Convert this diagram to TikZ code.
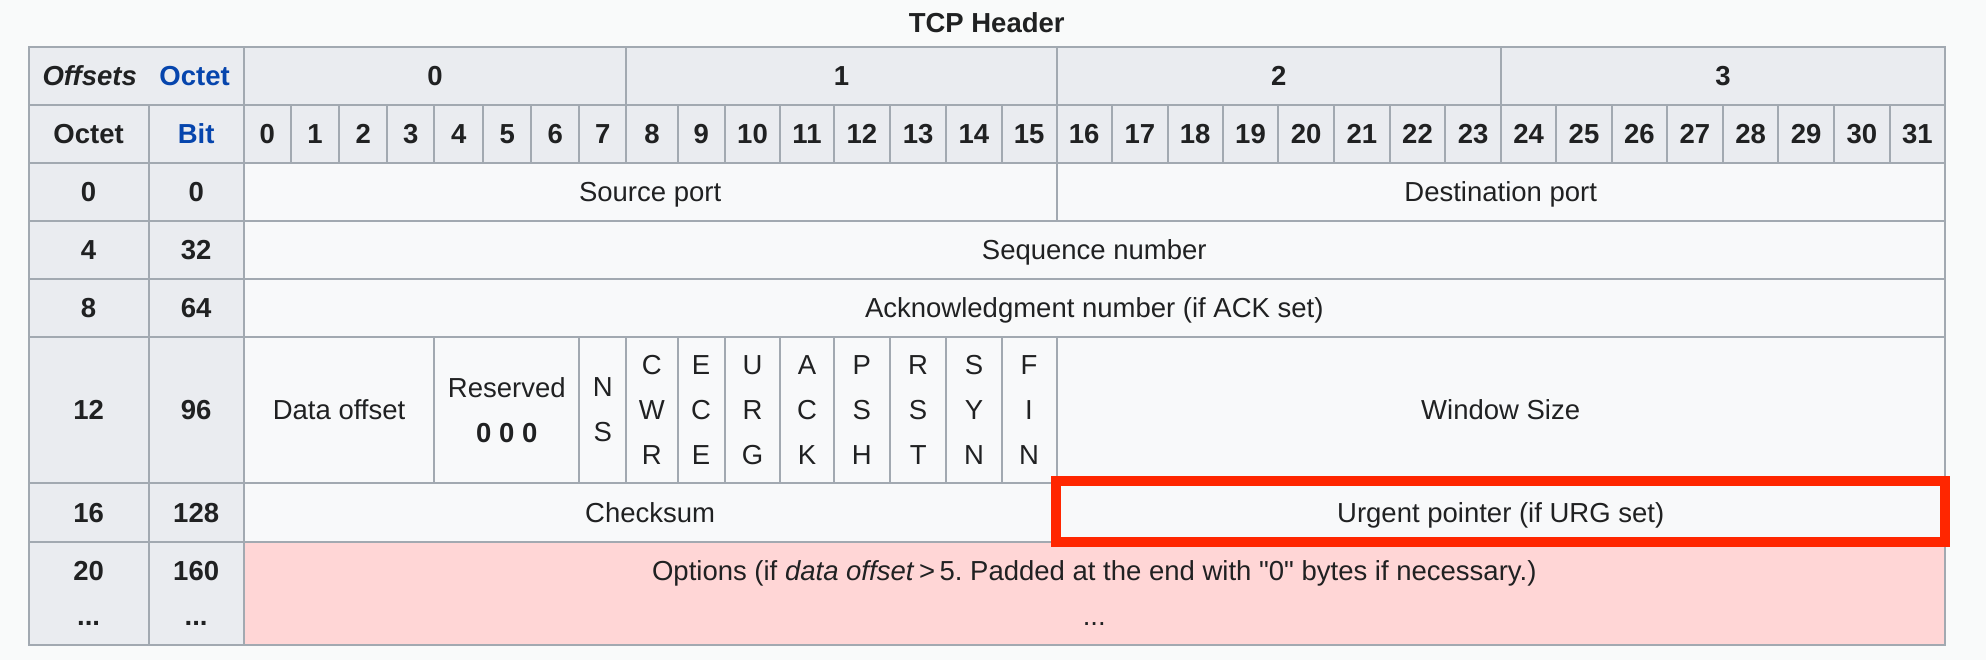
\documentclass[tikz,border=0pt]{standalone}
\usepackage{fontspec}
\setmainfont{Liberation Sans}[Ligatures=TeXOff]
\usetikzlibrary{calc}
\definecolor{bordc}{HTML}{A2A9B1}
\definecolor{hdrbg}{HTML}{EAECF0}
\definecolor{bodybg}{HTML}{F8F9FA}
\definecolor{pagebg}{HTML}{F9FAFA}
\definecolor{pinkbg}{HTML}{FFD6D6}
\definecolor{txt}{HTML}{202122}
\definecolor{linkblue}{HTML}{0645AD}
\definecolor{hilite}{HTML}{FF2600}
\newcommand\bodyfont{\fontsize{27.5}{45}\selectfont}
\newcommand\cellat[7]{\node[#6, minimum width={#4-#2}, minimum height={#5-#3}] (#1) at ({(#2+#4)/2},{(#3+#5)/2}) {#7};}
\tikzset{
  cellbase/.style={draw=bordc, line width=2, inner sep=0, outer sep=0, text=txt, font=\bodyfont, align=center},
  one/.style={text height=24.9pt, text depth=5.8pt},
  hdr/.style={cellbase, fill=hdrbg, font=\bodyfont\bfseries},
  hdrone/.style={hdr, one},
  body/.style={cellbase, fill=bodybg},
  bodyone/.style={body, one},
  optcell/.style={cellbase, fill=pinkbg},
  redbox/.style={draw=hilite, line width=10},
  titletext/.style={text=txt, font=\bodyfont\bfseries, inner sep=0, one}
}
\frenchspacing
\begin{document}
\begin{tikzpicture}[x=1pt, y=-1pt]
\fill[pagebg] (0,0) rectangle (1986,660);
\useasboundingbox (0,0) rectangle (1986,660);
\node[titletext] (title) at (986.7,23) {TCP Header};
% header row 1
\cellat{offs}{28.6}{46.7}{243.7}{104.7}{hdrone}{\textit{Offsets}\hspace{22.6pt}\textcolor{linkblue}{Octet}}
\cellat{byte0}{243.7}{46.7}{626.3}{104.7}{hdrone}{0}
\cellat{byte1}{626.3}{46.7}{1056.5}{104.7}{hdrone}{1}
\cellat{byte2}{1056.5}{46.7}{1501}{104.7}{hdrone}{2}
\cellat{byte3}{1501}{46.7}{1944.9}{104.7}{hdrone}{3}
% header row 2
\cellat{octh}{28.6}{104.7}{148.6}{163}{hdrone}{Octet}
\cellat{bith}{148.6}{104.7}{243.7}{163}{hdrone}{\textcolor{linkblue}{Bit}}
\foreach \i/\xa/\xb in {0/243.7/290.8, 1/290.8/339.2, 2/339.2/387.2, 3/387.2/434.4, 4/434.4/483.2, 5/483.2/531.2, 6/531.2/579.2, 7/579.2/626.3, 8/626.3/677.5, 9/677.5/724.8, 10/724.8/780.2, 11/780.2/833.8, 12/833.8/890, 13/890/946.3, 14/946.3/1001.6, 15/1001.6/1056.5, 16/1056.5/1111.9, 17/1111.9/1167.7, 18/1167.7/1222.6, 19/1222.6/1278.4, 20/1278.4/1334, 21/1334/1389.7, 22/1389.7/1445.3, 23/1445.3/1501, 24/1501/1556.2, 25/1556.2/1611.8, 26/1611.8/1667, 27/1667/1722.7, 28/1722.7/1778.4, 29/1778.4/1834, 30/1834/1889.7, 31/1889.7/1944.9}
  {\cellat{bit\i}{\xa}{104.7}{\xb}{163}{hdrone}{\i}}
% left columns
\cellat{o0}{28.6}{163}{148.6}{221}{hdrone}{0}
\cellat{bb0}{148.6}{163}{243.7}{221}{hdrone}{0}
\cellat{o4}{28.6}{221}{148.6}{278.7}{hdrone}{4}
\cellat{bb32}{148.6}{221}{243.7}{278.7}{hdrone}{32}
\cellat{o8}{28.6}{278.7}{148.6}{336.7}{hdrone}{8}
\cellat{bb64}{148.6}{278.7}{243.7}{336.7}{hdrone}{64}
\cellat{o12}{28.6}{336.7}{148.6}{483.3}{hdrone}{12}
\cellat{bb96}{148.6}{336.7}{243.7}{483.3}{hdrone}{96}
\cellat{o16}{28.6}{483.3}{148.6}{541.7}{hdrone}{16}
\cellat{bb128}{148.6}{483.3}{243.7}{541.7}{hdrone}{128}
\cellat{o20}{28.6}{541.7}{148.6}{645}{hdr}{20\\...}
\cellat{bb160}{148.6}{541.7}{243.7}{645}{hdr}{160\\...}
% body
\cellat{src}{243.7}{163}{1056.5}{221}{bodyone}{Source port}
\cellat{dst}{1056.5}{163}{1944.9}{221}{bodyone}{Destination port}
\cellat{seq}{243.7}{221}{1944.9}{278.7}{bodyone}{Sequence number}
\cellat{ack}{243.7}{278.7}{1944.9}{336.7}{bodyone}{Acknowledgment number (if ACK set)}
\cellat{doff}{243.7}{336.7}{434.4}{483.3}{bodyone}{Data offset}
\cellat{resv}{434.4}{336.7}{579.2}{483.3}{body}{Reserved\\\textbf{0 0 0}}
\cellat{fns}{579.2}{336.7}{626.3}{483.3}{body}{N\\S}
\cellat{fcwr}{626.3}{336.7}{677.5}{483.3}{body}{C\\W\\R}
\cellat{fece}{677.5}{336.7}{724.8}{483.3}{body}{E\\C\\E}
\cellat{furg}{724.8}{336.7}{780.2}{483.3}{body}{U\\R\\G}
\cellat{fack}{780.2}{336.7}{833.8}{483.3}{body}{A\\C\\K}
\cellat{fpsh}{833.8}{336.7}{890}{483.3}{body}{P\\S\\H}
\cellat{frst}{890}{336.7}{946.3}{483.3}{body}{R\\S\\T}
\cellat{fsyn}{946.3}{336.7}{1001.6}{483.3}{body}{S\\Y\\N}
\cellat{ffin}{1001.6}{336.7}{1056.5}{483.3}{body}{F\\I\\N}
\cellat{win}{1056.5}{336.7}{1944.9}{483.3}{bodyone}{Window Size}
\cellat{csum}{243.7}{483.3}{1056.5}{541.7}{bodyone}{Checksum}
\cellat{urg}{1056.5}{483.3}{1944.9}{541.7}{bodyone}{Urgent pointer (if URG set)}
\cellat{opts}{243.7}{541.7}{1944.9}{645}{optcell}{Options (if \textit{data offset}\,>\,5. Padded at the end with "0" bytes if necessary.)\\...}
% highlight
\draw[redbox] ($(urg.north west)+(-1,-2.5)$) rectangle ($(urg.south east)+(0.5,0.5)$);
\end{tikzpicture}
\end{document}
